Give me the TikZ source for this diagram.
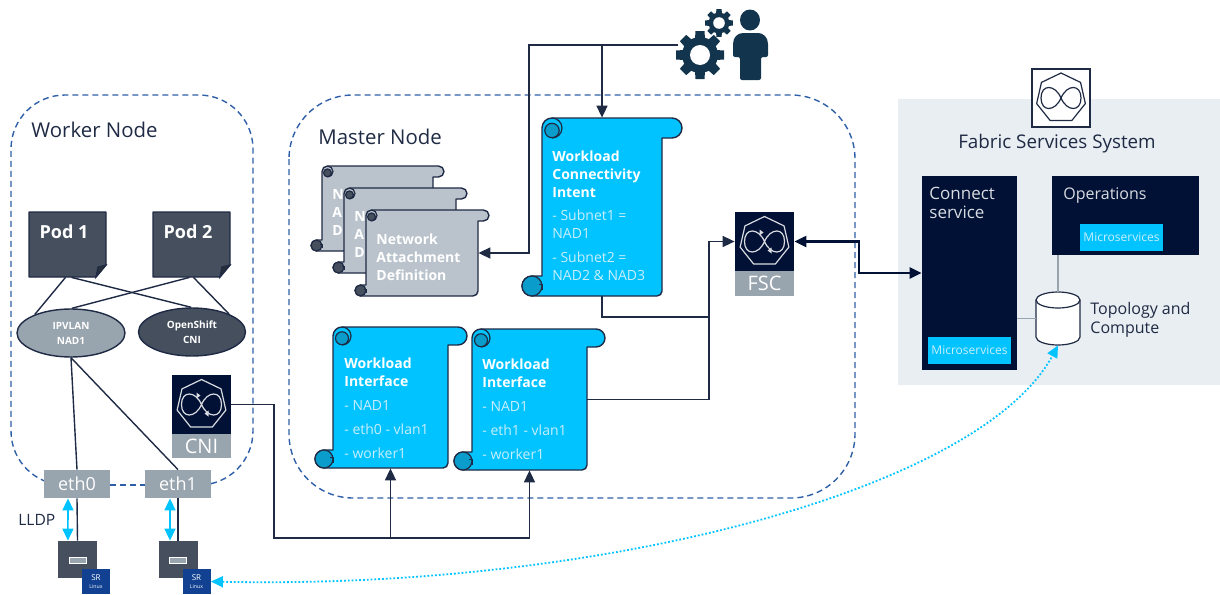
\documentclass[tikz,border=0pt]{standalone}
\usepackage{fontspec}
\setmainfont{Open Sans}
\usetikzlibrary{calc}
\usetikzlibrary{arrows.meta}
\usetikzlibrary{shapes.geometric}
\definecolor{navy}{HTML}{001135}
\definecolor{slate}{HTML}{454F5E}
\definecolor{ink}{HTML}{1F2A44}
\definecolor{ash}{HTML}{98A4AE}
\definecolor{pale}{HTML}{BAC3CC}
\definecolor{mist}{HTML}{E9EEF2}
\definecolor{sky}{HTML}{00C3FF}
\definecolor{deep}{HTML}{0A9CCB}
\definecolor{dashblue}{HTML}{2E5FA8}
\definecolor{srblue}{HTML}{124191}
\definecolor{usercol}{HTML}{12344D}
\definecolor{soft}{HTML}{C9EEFC}
\tikzset{
  >={Stealth[length=6pt,width=5.5pt,inset=0pt]},
  pxbox/.style n args={2}{inner sep=0,minimum width=(#1)*.5pt,minimum height=(#2)*.5pt},
  region/.style={dashblue,densely dashed,line width=.7pt,rounded corners=27pt},
  conn/.style={ink,line width=.7pt},
  thinconn/.style={ink,line width=.8pt},
  scrolltxt/.style={anchor=north west,inner sep=0,align=left,white,font=\fontsize{7}{9}\selectfont},
  headtxt/.style={ink,inner sep=0,align=left,font=\fontsize{10.2}{10}\selectfont},
  grey/.style={fill=ash,text=white,font=\fontsize{9}{9}\selectfont},
  iconline/.style={line width=.6pt},
  micro/.style={fill=sky,text=soft,pxbox={83}{27},font=\fontsize{6}{6}\selectfont},
  fscicon/.pic={
    \draw[iconline,line join=round] (-90:25) -- (-38.6:25) -- (12.9:25) -- (64.3:25) -- (115.7:25) -- (167.1:25) -- (218.6:25) -- cycle;
    \draw[iconline] (0,0) .. controls (-6,-14) and (-20,-14) .. (-20,0) .. controls (-20,14) and (-6,14) .. (0,0)
      .. controls (6,-14) and (20,-14) .. (20,0) .. controls (20,14) and (6,14) .. (0,0);
  },
  iconhead/.pic={
    \fill (-1,-9) -- (-5,-12) -- (-5,-6) -- cycle;
    \fill (3,9) -- (7,6) -- (7,12) -- cycle;
  },
  gearpic/.pic={
    \fill circle (18);
    \foreach \a in {0,45,...,315} \fill[rotate=\a] (-6,0) -- (-4.5,24) -- (4.5,24) -- (6,0) -- cycle;
    \fill[white] circle (10);
  }
}
% #1 name, #2 left, #3 top, #4 bar end, #5 body right, #6 bottom, #7 roll radius, #8 fill, #9 roll colour
\newcommand{\scrollsheet}[9]{
  \draw[ink,line width=.7pt,fill=#8,line join=round]
    (#2,#3+#7) arc (180:270:#7) -- (#4-#7,#3) arc (-90:90:#7) -- (#5,#3+2*#7)
    -- (#5,#6-5) arc (0:90:5) -- (#2-#7,#6) arc (90:270:#7) -- (#2,#6-2*#7) -- cycle;
  \draw[ink,line width=.6pt,fill=#9] (#2+#7,#3+1.25*#7) circle (.72*#7);
  \draw[ink,line width=.6pt] (#2+#7,#3) arc (-90:90:#7);
  \draw[ink,line width=.6pt,fill=#9] (#2-#7,#6-#7) circle (#7);
  \draw[ink,line width=.5pt] (#2-.3*#7,#6-1.2*#7) -- (#2,#6-1.2*#7) -- (#2,#6-.6*#7);
  \node[pxbox={#5-#2}{#6-#3}] (#1) at ({(#2+#5)/2},{(#3+#6)/2}) {};
}

\begin{document}
\begin{tikzpicture}[x=.5pt,y=-.5pt]
\useasboundingbox (0,0) rectangle (1220,594);

% containers
\draw[region] (44,485) -- (11,485) -- (11,95) -- (253,95) -- (253,485) -- (211,485);
\draw[region] (110,485) -- (145,485);
\draw[region,rounded corners=32pt] (289,95) rectangle (855,498);
\node[headtxt,anchor=west] (workerlab) at (31,130) {Worker Node};
\node[headtxt,anchor=west] (masterlab) at (318,136.5) {Master Node};

\node[fill=mist,pxbox={322}{286}] (fss) at (1059,242) {};

% pods and CNI plugins
\foreach \n/\x/\t in {pod1/29/Pod 1,pod2/153/Pod 2} {
  \draw[ink,line width=.7pt,fill=slate,line join=round] (\x,212) -- (\x+77,212) -- (\x+77,265) -- (\x+67,277) -- (\x,277) -- cycle;
  \draw[ink,line width=.6pt,fill=slate!60!black] (\x+77,265) -- (\x+69,267) -- (\x+67,277) -- cycle;
  \node[pxbox={77}{65}] (\n) at (\x+38.5,244.5) {};
  \node[white,inner sep=0,font=\fontsize{9}{9}\selectfont\bfseries] (\n txt) at (\x+35,232) {\t};
}
\node[ellipse,draw=ink,line width=.7pt,fill=ash,text=white,pxbox={108}{48},align=center,font=\fontsize{5}{7.5}\selectfont\bfseries] (ipvlan) at (71,333) {IPVLAN\\NAD1};
\node[ellipse,draw=ink,line width=.7pt,fill=slate,text=white,pxbox={107}{48},align=center,font=\fontsize{5}{7.5}\selectfont\bfseries] (openshift) at (192,332) {OpenShift\\CNI};
\draw[conn] ([xshift=-1pt]pod1.south) -- (ipvlan.153);
\draw[conn] ([xshift=2pt]pod1.south) -- (openshift.92);
\draw[conn] ([xshift=-1pt]pod2.south) -- (ipvlan.88);
\draw[conn] ([xshift=1pt]pod2.south) -- (openshift.26);

% interfaces and switches
\node[grey,pxbox={66}{28}] (eth0) at (77,484) {eth0};
\node[grey,pxbox={66}{28}] (eth1) at (178,484) {eth1};
\draw[conn] (ipvlan.south) -- (eth0.north);
\draw[conn] (ipvlan.south) -- (eth1.north);
\node[ink,inner sep=0,anchor=west,font=\fontsize{7.8}{7.8}\selectfont] (lldp) at (18,520) {LLDP};
\foreach \n/\x in {1/77.5,2/178} {
  \node[fill=slate,pxbox={39}{37}] (sw\n) at (\x,559.5) {};
  \node[draw=white,fill=ash,pxbox={17}{6},line width=.4pt] (slot\n) at (\x,560) {};
  \node[fill=srblue,text=white,pxbox={28}{25},align=center,font=\fontsize{4}{4.2}\selectfont] (sr\n) at (\x+18.5,581.5) {SR\\{\fontsize{2.6}{4.2}\selectfont Linux}};
}
\draw[conn] (eth0.south) -- (sw1.north);
\draw[conn] (eth1.south) -- (sw2.north);
\draw[sky,line width=.8pt,<->] ([xshift=-4.5pt]eth0.south) -- ([xshift=-4.8pt]sw1.north);
\draw[sky,line width=.8pt,<->] ([xshift=-4pt]eth1.south) -- ([xshift=-4pt]sw2.north);

% CNI
\node[fill=navy,pxbox={59}{59}] (cni) at (201.5,404.5) {};
\pic[white!85!navy] at (cni.center) {fscicon};
\pic[white!85!navy] at (cni.center) {iconhead};
\node[grey,pxbox={59}{24},font=\fontsize{10}{10}\selectfont] (cnilab) at (201.5,446) {CNI};

% network attachment sheets
\scrollsheet{nada}{322}{166}{444}{433}{251}{5.5}{pale}{slate}
\node[scrolltxt,font=\fontsize{7}{9}\selectfont\bfseries] (nadatxt) at (332,189) {N\\A\\D};
\scrollsheet{nadb}{344}{188}{467}{456}{273}{5.5}{pale}{slate}
\node[scrolltxt,font=\fontsize{7}{9}\selectfont\bfseries] (nadbtxt) at (354,211) {N\\A\\D};
\scrollsheet{nadc}{366}{210}{489}{478}{296}{5.5}{pale}{slate}
\node[scrolltxt,font=\fontsize{7}{9}\selectfont\bfseries] (nadctxt) at (376,233) {Network\\Attachment\\Definition};

% sky blue sheets
\scrollsheet{intent}{542}{118}{682}{662}{296}{10}{sky}{deep}
\node[scrolltxt] (intenttxt) at (552,150) {\textbf{Workload}\\\textbf{Connectivity}\\\textbf{Intent}\\[2.5pt]
  \textcolor{soft}{- Subnet1 =}\\\textcolor{soft}{NAD1}\\[3pt]\textcolor{soft}{- Subnet2 =}\\\textcolor{soft}{NAD2 \& NAD3}};
\scrollsheet{wi1}{333}{327}{467}{448}{468}{9}{sky}{deep}
\node[scrolltxt] (wi1txt) at (344,357) {\textbf{Workload}\\\textbf{Interface}\\[3pt]
  \textcolor{soft}{- NAD1}\\[3pt]\textcolor{soft}{- eth0 - vlan1}\\[3pt]\textcolor{soft}{- worker1}};
\scrollsheet{wi2}{472}{329}{605}{587}{470}{9}{sky}{deep}
\node[scrolltxt] (wi2txt) at (482,358) {\textbf{Workload}\\\textbf{Interface}\\[3pt]
  \textcolor{soft}{- NAD1}\\[3pt]\textcolor{soft}{- eth1 - vlan1}\\[3pt]\textcolor{soft}{- worker1}};

% FSC
\node[fill=navy,pxbox={59}{59}] (fsc) at (764.5,241.5) {};
\pic[white!85!navy] at (fsc.center) {fscicon};
\pic[white!85!navy] at (fsc.center) {iconhead};
\node[grey,pxbox={59}{25},font=\fontsize{10}{10}\selectfont] (fsclab) at (764.5,283.5) {FSC};

% user and gears
\pic[usercol] at (700,55) {gearpic};
\pic[usercol,scale=.58] at (719,23) {gearpic};
\fill[usercol] (750,20) ellipse (10 and 10.5);
\fill[usercol,rounded corners=1pt] (733,57) -- (733,46) .. controls (733,37) and (738,33) .. (745,33) -- (756,33) .. controls (763,33) and (768,37) .. (768,46) -- (768,57) -- (761,57) -- (761,80) -- (740,80) -- (740,57) -- cycle;

% fabric services system
\node[draw=ink,fill=white,line width=.7pt,pxbox={58}{58}] (fssicon) at (1061,98) {};
\pic[ink] at (fssicon.center) {fscicon};
\node[ink,inner sep=0,font=\fontsize{9.4}{10}\selectfont] (fsslab) at (1057,144) {Fabric Services System};
\node[fill=navy,pxbox={95}{194}] (connect) at (969.5,273) {};
\node[anchor=north west,inner sep=0,align=left,white!85!navy,font=\fontsize{8.5}{9.5}\selectfont] (connectlab) at (929,187) {Connect\\service};
\node[micro] (microa) at (969.5,350.5) {Microservices};
\node[fill=navy,pxbox={147}{79}] (ops) at (1125.5,215.5) {};
\node[anchor=west,inner sep=0,white!85!navy,font=\fontsize{8}{10}\selectfont] (opslab) at (1063,196) {Operations};
\node[micro] (microb) at (1121.5,237.5) {Microservices};
\node[pxbox={44}{53}] (topo) at (1058,318.5) {};
\draw[ink,line width=.6pt,fill=white] (1036,300) -- (1036,337) arc (180:0:22 and 8) -- (1080,300) arc (0:-180:22 and 8) -- cycle;
\draw[ink,line width=.6pt] (1036,300) arc (180:0:22 and 8);
\node[anchor=north west,inner sep=0,align=left,ink,font=\fontsize{8}{9.5}\selectfont] (topolab) at (1090,302) {Topology and\\Compute};
\draw[ash,line width=.7pt] (topo.north) -- (topo.north |- ops.south);
\draw[ash,line width=.7pt] (topo.west) -- (topo.west -| connect.east);

% connectors
\coordinate (usr) at (678,45);
\coordinate (nadturn) at (529,45);
\draw[thinconn,->] (usr) -- (nadturn) |- (nadc.east);
\draw[thinconn,->] (usr -| intent.north) -- (intent.north);
\coordinate (fscturn) at (709,317);
\draw[thinconn] (intent.south) |- (fscturn);
\draw[thinconn,->] (wi2.east) -| (fscturn) |- (fsc.west);
\coordinate (cniturn) at (274,538);
\draw[thinconn,->] (cni.east) -| (cniturn) -| (wi2.south);
\draw[thinconn,->] (wi1.south |- cniturn) -- (wi1.south);
\coordinate (fssturn) at (859,260);
\draw[navy,line width=1.1pt,<->] (fsc.east) -| (fssturn) |- (connect.west);
\draw[sky,line width=.9pt,densely dotted,<->] (sr2.east) .. controls (600,590) and (980,490) .. (topo.south);
\end{tikzpicture}
\end{document}
